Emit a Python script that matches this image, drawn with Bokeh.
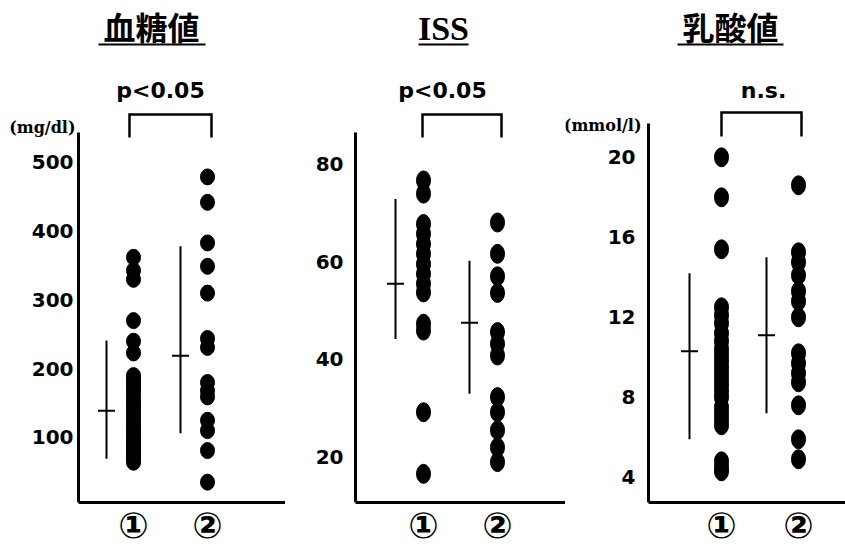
from bokeh.plotting import figure
from bokeh.layouts import row
from bokeh.models import Range1d, FixedTicker, Label
from bokeh.embed import file_html
from bokeh.resources import INLINE

# ---- data -------------------------------------------------------------
groups = [1, 2]
group_labels = ["①", "②"]

# blood glucose (mg/dl)
glu_g1 = [362, 343, 330, 270, 240, 223,
          190, 185, 180, 175, 170, 166, 160, 155, 150, 146, 140, 135, 130,
          125, 120, 115, 110, 105, 100, 96, 92, 88, 84, 80, 76, 72, 68, 64]
glu_g2 = [479, 442, 383, 349, 310, 244, 231, 180, 168, 159, 125, 110, 81, 35]
glu_mean = [139, 219]
glu_low = [69, 106]
glu_high = [241, 378]
glu_ticks = [100, 200, 300, 400, 500]

# ISS
iss_g1 = [76.6, 73.9, 67.7, 65.7, 63.6, 61.6, 59.5, 57.5, 55.5, 53.7,
          47.3, 45.9, 29.2, 16.6]
iss_g2 = [68, 61.6, 57, 53.6, 45.6, 43.2, 40.8, 32.3, 29.2, 25.5, 22, 19]
iss_mean = [55.5, 47.5]
iss_low = [44.2, 33.0]
iss_high = [72.8, 60.2]
iss_ticks = [20, 40, 60, 80]

# lactate (mmol/l)
lac_g1 = [20.0, 18.0, 15.4,
          12.5, 12.1, 11.7, 11.2, 10.8, 10.4, 10.1, 9.8, 9.5, 9.2, 8.9,
          8.6, 8.3, 8.0, 7.5, 7.2, 6.9, 6.6, 4.8, 4.5, 4.3]
lac_g2 = [18.6, 15.25, 14.75, 14.1, 13.3, 12.8, 12.0,
          10.2, 9.7, 9.2, 8.75, 7.6, 5.9, 4.9]
lac_mean = [10.3, 11.1]
lac_low = [5.9, 7.2]
lac_high = [14.2, 15.0]
lac_ticks = [4, 8, 12, 16, 20]

titles = ["血糖値", "ISS", "乳酸値"]
stats = ["p<0.05", "p<0.05", "n.s."]
units = ["(mg/dl)", None, "(mmol/l)"]

# ---- layout (canvas pixels) ----------------------------------------------
H = 551
BOTTOM = 49          # room for the group labels under the frame
SANS = "DejaVu Sans"
CJK = "Noto Sans CJK JP"

panels = [
    dict(off=0, width=285, cols=(133, 207), axis_x=78, yr=(5.45, 735.6),
         axis_top=132, standoff=5, dot=(14, 16), sd_off=-27,
         data=(glu_g1, glu_g2, glu_mean, glu_low, glu_high, glu_ticks),
         title_xy=(151, 25), title_font=CJK, title_size="32px", uline=(98, 205, 44),
         stat_xy=(160, 90), bracket=(129, 211, 114, 137), unit_xy=(75, 127)),
    dict(off=285, width=280, cols=(423, 497), axis_x=355, yr=(10.74, 113.4),
         axis_top=132, standoff=12, dot=(14, 19), sd_off=-28,
         data=(iss_g1, iss_g2, iss_mean, iss_low, iss_high, iss_ticks),
         title_xy=(443, 28), title_font="Liberation Serif", title_size="34px",
         uline=(418, 468, 44),
         stat_xy=(442, 90), bracket=(422, 501, 114, 137), unit_xy=None),
    dict(off=565, width=280, cols=(721, 798), axis_x=648, yr=(2.74, 27.84),
         axis_top=123, standoff=13, dot=(14, 19), sd_off=-32,
         data=(lac_g1, lac_g2, lac_mean, lac_low, lac_high, lac_ticks),
         title_xy=(730, 25), title_font=CJK, title_size="32px", uline=(677, 783, 44),
         stat_xy=(763, 90), bracket=(721, 801, 112, 136), unit_xy=(641, 125)),
]


def make_panel(i, s):
    fw = s["width"]
    fh = H - BOTTOM
    c1, c2 = s["cols"]
    ppu = c2 - c1                       # pixels per group step
    x0 = groups[0] - (c1 - s["off"]) / ppu
    x1 = x0 + fw / ppu
    y0, y1 = s["yr"]

    def X(px):  # canvas column -> data x
        return x0 + (px - s["off"]) / ppu

    def Y(py):  # canvas row -> data y
        return y1 - py / fh * (y1 - y0)

    g1, g2, mean, low, high, ticks = s["data"]

    p = figure(width=s["width"], height=H, output_backend="svg", toolbar_location=None,
               title=None, x_range=Range1d(x0, x1), y_range=Range1d(y0, y1),
               min_border_left=0, min_border_right=0,
               min_border_top=0, min_border_bottom=BOTTOM)
    p.outline_line_color = None
    p.grid.visible = False
    p.background_fill_color = "white"
    p.border_fill_color = "white"

    # axes
    for ax in (p.xaxis[0], p.yaxis[0]):
        ax.axis_line_width = 3
        ax.axis_line_color = "black"
        ax.major_tick_line_color = None
        ax.minor_tick_line_color = None
        ax.major_tick_out = 0
        ax.major_tick_in = 0
        ax.major_label_text_color = "black"
    ax_x = X(s["axis_x"])
    p.yaxis.fixed_location = ax_x
    p.yaxis.ticker = FixedTicker(ticks=ticks)
    p.yaxis.bounds = (y0, Y(s["axis_top"]))
    p.yaxis.major_label_text_font = SANS
    p.yaxis.major_label_text_font_style = "bold"
    p.yaxis.major_label_text_font_size = "20px"
    p.yaxis.major_label_standoff = s["standoff"]

    p.xaxis.bounds = (ax_x, x1)
    p.xaxis.ticker = FixedTicker(ticks=groups)
    p.xaxis.major_label_overrides = {g: lab for g, lab in zip(groups, group_labels)}
    p.xaxis.major_label_text_font = SANS
    p.xaxis.major_label_text_font_style = "bold"
    p.xaxis.major_label_text_font_size = "36px"
    p.xaxis.major_label_standoff = 2

    # individual values
    dw, dh = s["dot"]
    for g, vals in zip(groups, (g1, g2)):
        p.ellipse(x=[g] * len(vals), y=vals, width=dw, height=dh,
                  width_units="screen", height_units="screen",
                  fill_color="black", line_color="black")

    # range line with mean tick, left of each column
    sx = [g + s["sd_off"] / ppu for g in groups]
    p.segment(x0=sx, y0=low, x1=sx, y1=high, line_color="black", line_width=2)
    p.scatter(x=sx, y=mean, marker="dash", size=17, line_color="black", line_width=2)

    # significance bracket
    bx0, bx1, bt, bb = s["bracket"]
    p.line(x=[X(bx0), X(bx0), X(bx1), X(bx1)], y=[Y(bb), Y(bt), Y(bt), Y(bb)],
           line_color="black", line_width=2.5, line_join="miter")

    # title with underline
    tx, ty = s["title_xy"]
    p.add_layout(Label(x=X(tx), y=Y(ty), text=titles[i], text_font=s["title_font"],
                       text_font_size=s["title_size"], text_font_style="bold",
                       text_align="center", text_baseline="middle", text_color="black"))
    ux0, ux1, uy = s["uline"]
    p.line(x=[X(ux0), X(ux1)], y=[Y(uy), Y(uy)], line_color="black", line_width=2)

    # test result
    stx, sty = s["stat_xy"]
    p.add_layout(Label(x=X(stx), y=Y(sty), text=stats[i], text_font=SANS,
                       text_font_size="22px", text_font_style="bold",
                       text_align="center", text_baseline="middle", text_color="black"))

    # unit
    if units[i] is not None:
        ux, uy2 = s["unit_xy"]
        p.add_layout(Label(x=X(ux), y=Y(uy2), text=units[i], text_font="DejaVu Serif",
                           text_font_size="16px", text_font_style="bold",
                           text_align="right", text_baseline="middle", text_color="black"))
    return p


figs = [make_panel(i, s) for i, s in enumerate(panels)]
layout = row(*figs, spacing=0)

open("out.html", "w").write(file_html(layout, INLINE))
